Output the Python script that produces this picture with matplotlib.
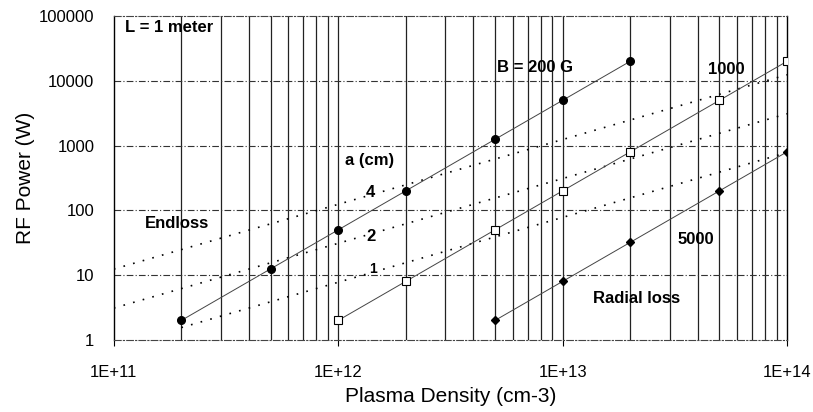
import numpy as np
import matplotlib.pyplot as plt
from matplotlib.ticker import FixedLocator, NullFormatter

plt.rcParams['font.family'] = ['Liberation Sans', 'DejaVu Sans']

# Radial loss, three magnetic fields
b200_n = [2e11, 5e11, 1e12, 2e12, 5e12, 1e13, 2e13]
b200_p = [2, 12.5, 50, 200, 1250, 5000, 20000]
b1000_n = [1e12, 2e12, 5e12, 1e13, 2e13, 5e13, 1e14]
b1000_p = [2, 8, 50, 200, 800, 5000, 20000]
b5000_n = [5e12, 1e13, 2e13, 5e13, 1e14]
b5000_p = [2, 8, 32, 200, 800]

# Endloss, three radii a (cm)
a4_n = [1e11, 1e14]
a4_p = [12.4, 12400]
a2_n = [1e11, 1e14]
a2_p = [3.1, 3100]
a1_n = [2e11, 1e14]
a1_p = [1.55, 780]

xticks = [1e11, 1e12, 1e13, 1e14]
xticklabels = ['1E+11', '1E+12', '1E+13', '1E+14']
yticks = [1, 10, 100, 1000, 10000, 100000]
yticklabels = ['1', '10', '100', '1000', '10000', '100000']

fig = plt.figure(figsize=(8.13, 4.12), dpi=100)
ax = fig.add_axes([0.140, 0.175, 0.828, 0.786])
ax.set_xscale('log')
ax.set_yscale('log')
ax.set_xlim(1e11, 1e14)
ax.set_ylim(1, 100000)

# grid: solid vertical lines at every minor step, dash-dot horizontals
minor_x = [m * 10.0 ** e for e in range(11, 14) for m in range(2, 10)]
for x in minor_x + xticks[1:-1]:
    ax.axvline(x, color='#222222', lw=0.9, zorder=1)
for y in yticks[1:-1]:
    ax.axhline(y, color='#333333', lw=0.8, ls=(0, (6, 2, 1, 2)), zorder=1)

for s in ['top', 'bottom']:
    ax.spines[s].set_linestyle((0, (6, 2, 1, 2)))
    ax.spines[s].set_color('#444444')
    ax.spines[s].set_linewidth(0.8)
ax.spines['left'].set_linewidth(1.0)
ax.spines['right'].set_linewidth(1.0)

ax.xaxis.set_major_locator(FixedLocator(xticks))
ax.set_xticklabels(xticklabels)
ax.xaxis.set_minor_formatter(NullFormatter())
ax.yaxis.set_major_locator(FixedLocator(yticks))
ax.set_yticklabels(yticklabels)
ax.yaxis.set_minor_locator(FixedLocator([]))
ax.xaxis.set_minor_locator(FixedLocator([]))
ax.tick_params(axis='x', length=4, pad=14, labelsize=12)
ax.tick_params(axis='y', length=0, pad=14, labelsize=12)

# endloss lines
for n, p in [(a4_n, a4_p), (a2_n, a2_p), (a1_n, a1_p)]:
    ax.plot(n, p, color='black', lw=1.2, ls=(0, (1, 5)), zorder=3)

# radial loss lines
ax.plot(b200_n, b200_p, color='#444444', lw=0.7, marker='o', ms=5.5,
        mfc='black', mec='black', zorder=4)
ax.plot(b1000_n, b1000_p, color='#444444', lw=0.7, marker='s', ms=6,
        mfc='white', mec='black', mew=0.8, zorder=4)
ax.plot(b5000_n, b5000_p, color='#444444', lw=0.7, marker='D', ms=4,
        mfc='black', mec='black', zorder=4)

bold = dict(fontsize=12, fontweight='bold', va='center', zorder=5)
ax.text(1.12e11, 67000, 'L = 1 meter', **bold)
ax.text(5.1e12, 15800, 'B = 200 G', **bold)
ax.text(4.45e13, 14700, '1000', **bold)
ax.text(1.07e12, 580, 'a (cm)', **bold)
ax.text(1.33e12, 186, '4', **bold)
ax.text(1.33e12, 40, '2', **bold)
ax.text(1.38e12, 12.5, '1', va='center', fontsize=10, fontweight='bold', zorder=5)
ax.text(1.37e11, 62, 'Endloss', **bold)
ax.text(3.24e13, 35, '5000', **bold)
ax.text(1.36e13, 4.3, 'Radial loss', **bold)

ax.set_xlabel('Plasma Density (cm-3)', fontsize=15, labelpad=5)
ax.set_ylabel('RF Power (W)', fontsize=15, labelpad=3)

fig.savefig('out.png', dpi=100)
